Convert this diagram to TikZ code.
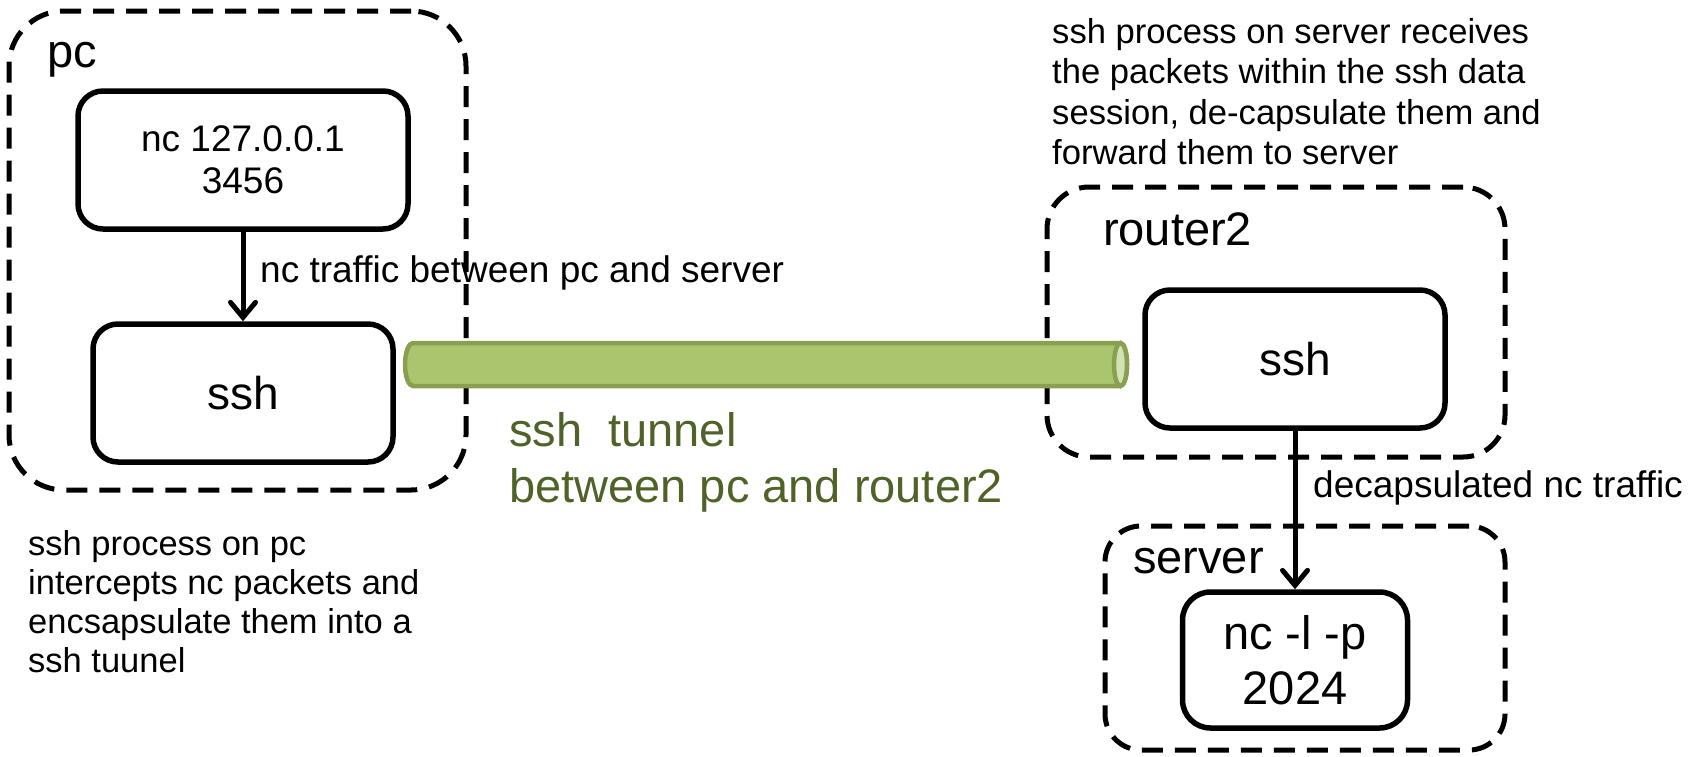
\documentclass[tikz,border=0pt]{standalone}
\usepackage{fontspec}
\setmainfont{Liberation Sans}
\usetikzlibrary{arrows.meta}
\definecolor{tunfill}{HTML}{ABC56F}
\definecolor{tunline}{HTML}{88A050}
\definecolor{tunhi}{HTML}{D3E2B5}
\definecolor{tuntext}{HTML}{4F6228}
\begin{document}
\begin{tikzpicture}[x=1pt,y=-1pt,
  groupbox/.style={draw=black, line width=5pt, dash pattern=on 21pt off 12pt, inner sep=0pt, outer sep=0pt},
  procbox/.style={draw=black, fill=white, line width=5.5pt, inner sep=0pt, align=center},
  flow/.style={line width=5pt, -{Straight Barb[length=15pt,width=25pt,line cap=round]}},
  biglabel/.style={font=\fontsize{47}{54}\selectfont, inner sep=0pt, anchor=base west},
  edgelabel/.style={font=\fontsize{37}{43}\selectfont, inner sep=0pt, anchor=base west},
  notetext/.style={inner sep=0pt, anchor=base west},
  tunnelbody/.style={draw=tunline, fill=tunfill, line width=4.5pt},
  tunnelcap/.style={draw=tunline, fill=tunhi, line width=4.5pt}]
\useasboundingbox (0,0) rectangle (1691,756);
\fill[white] (0,0) rectangle (1691,756);

% group boxes
\node[groupbox, rounded corners=55pt, minimum width=457pt, minimum height=479pt] (pcgrp) at (237.5,250.5) {};
\node[groupbox, rounded corners=42pt, minimum width=458pt, minimum height=270pt] (rtgrp) at (1276,322) {};
\node[groupbox, rounded corners=36pt, minimum width=400pt, minimum height=224pt] (svgrp) at (1305,638) {};

% tunnel
\draw[tunnelbody] (413,343) arc[start angle=270, end angle=90, x radius=8, y radius=21.5]
  -- (1120.5,386) arc[start angle=90, end angle=-90, x radius=6.5, y radius=21.5] -- cycle;
\draw[tunnelcap] (1120.5,364.5) ellipse[x radius=6.5, y radius=21.5];

% process boxes
\node[procbox, rounded corners=25pt, minimum width=330pt, minimum height=138pt, font=\fontsize{37}{42}\selectfont] (nccli) at (243,160) {nc 127.0.0.1\\3456};
\node[procbox, rounded corners=25pt, minimum width=300pt, minimum height=138pt, font=\fontsize{46}{54}\selectfont] (sshpc) at (243,393) {ssh};
\node[procbox, rounded corners=25pt, minimum width=300pt, minimum height=138pt, font=\fontsize{46}{54}\selectfont] (sshrt) at (1295,359) {ssh};
\node[procbox, rounded corners=28pt, minimum width=225pt, minimum height=136pt, font=\fontsize{47}{55}\selectfont] (ncsrv) at (1295,660) {nc -l -p\\2024};

% connectors
\draw[flow] (nccli.south) -- (sshpc.north);
\draw[flow] (sshrt.south) -- (ncsrv.north);

% labels
\node[biglabel] (pclbl) at (47,67) {pc};
\node[biglabel] (rtlbl) at (1103,245) {router2};
\node[biglabel] (svlbl) at (1133,573) {server};
\node[edgelabel] (trafficlbl) at (260,282) {nc traffic between pc and server};
\node[edgelabel] (decaplbl) at (1313,497) {decapsulated nc traffic};
\node[notetext, text=tuntext, font=\fontsize{47}{56}\selectfont] (tunlbl) at (509,446)
  {\begin{tabular}[t]{@{}l@{}}ssh\ \ tunnel\\between pc and router2\end{tabular}};
\node[notetext, font=\fontsize{34.5}{39.3}\selectfont] (pcnote) at (28,555)
  {\begin{tabular}[t]{@{}l@{}}ssh process on pc\\intercepts nc packets and\\encsapsulate them into a\\ssh tuunel\end{tabular}};
\node[notetext, font=\fontsize{34.6}{40.5}\selectfont] (srvnote) at (1052,43)
  {\begin{tabular}[t]{@{}l@{}}ssh process on server receives\\the packets within the ssh data\\session, de-capsulate them and\\forward them to server\end{tabular}};
\end{tikzpicture}
\end{document}
